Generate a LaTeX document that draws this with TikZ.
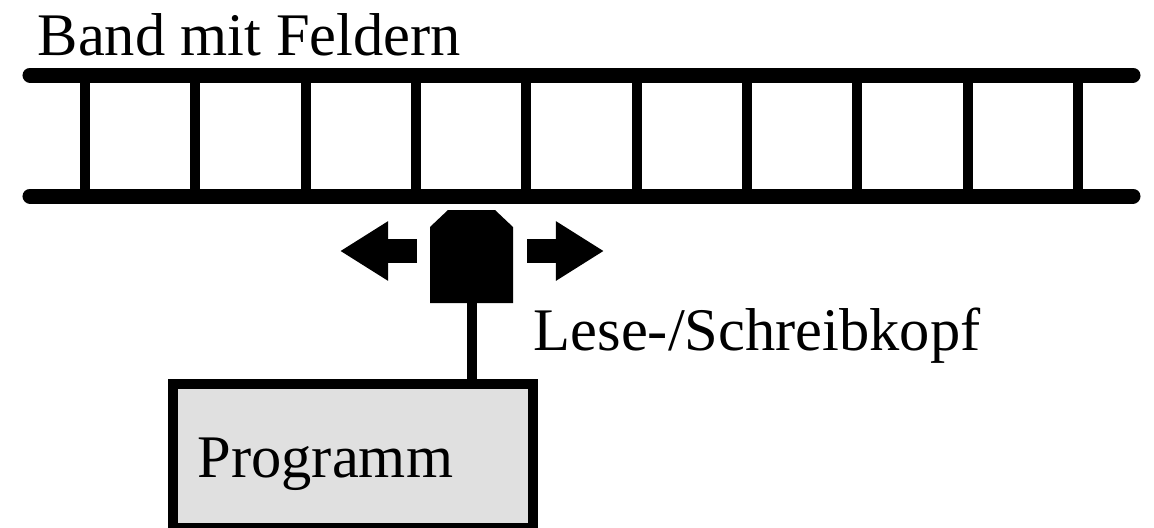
\documentclass[tikz,border=0pt]{standalone}
\usepackage{fontspec}
\setmainfont{Liberation Serif}
\usetikzlibrary{arrows.meta,positioning}
\definecolor{Ink}{HTML}{000000}
\definecolor{BoxGray}{HTML}{E0E0E0}
\tikzset{
  rail/.style={line width=0.15cm, line cap=round, draw=Ink},
  bar/.style={line width=0.10cm, draw=Ink},
  moveflow/.style={line width=0.23cm, draw=Ink,
    -{Triangle[length=0.48cm, width=0.56cm]}},
  prog/.style={draw=Ink, line width=0.10cm, fill=BoxGray,
    minimum width=3.6cm, minimum height=1.44cm, inner sep=0pt},
  label/.style={font=\fontsize{17.2}{20}\selectfont, inner sep=0pt}
}

\begin{document}
\begin{tikzpicture}[x=0.01cm,y=-0.01cm]
    \useasboundingbox (0,0) rectangle (1154,527);
    % Band
    \draw[rail] (30,75) -- (1133,75);
    \draw[rail] (30,196) -- (1133,196);
    \foreach \i in {0,...,9}
      \draw[bar] (85+110.33*\i,75) -- (85+110.33*\i,196);
    \node[label,anchor=base west] (bandtext) at (37,55) {Band mit Feldern};
    % Kopf
    \fill[Ink] (430,227) -- (448,210) -- (495,210) -- (513,227)
      -- (513,303) -- (430,303) -- cycle;
    \coordinate (kopf) at (472,303);
    \coordinate (linksA) at (417,251);
    \coordinate (linksB) at (340,251);
    \coordinate (rechtsA) at (527,251);
    \coordinate (rechtsB) at (604,251);
    \draw[moveflow] (linksA) -- (linksB);
    \draw[moveflow] (rechtsA) -- (rechtsB);
    \node[label,anchor=base west] (kopftext) at (533,350) {Lese-/Schreibkopf};
    % Programm
    \node[prog] (programm) at (353,456) {};
    \node[label,anchor=base west] (progtext) at (197,477) {Programm};
    \draw[bar] (kopf) -- (kopf |- programm.north);
  \end{tikzpicture}
\end{document}
